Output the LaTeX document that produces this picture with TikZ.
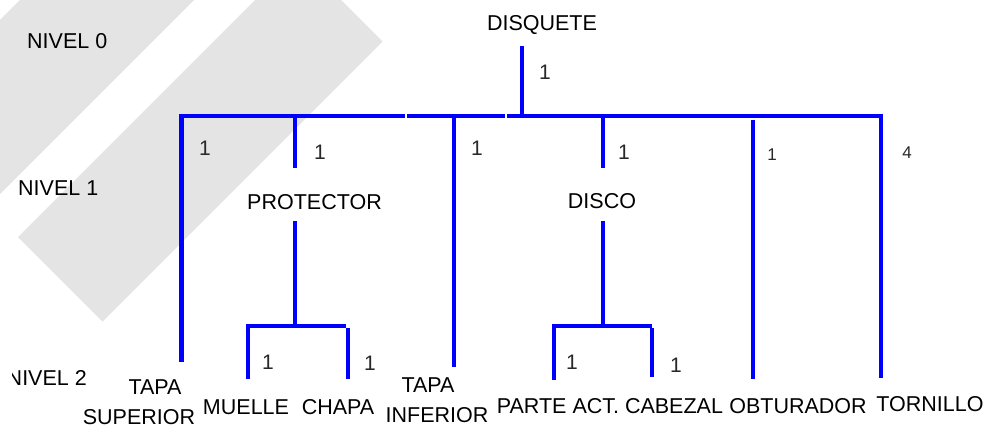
\documentclass[tikz,border=0pt]{standalone}
\usepackage{fontspec}
\setmainfont{Liberation Sans}
\definecolor{bandgray}{RGB}{228,228,228}
\definecolor{linkblue}{RGB}{0,0,255}
\definecolor{qtygray}{RGB}{40,40,40}
\begin{document}
\begin{tikzpicture}[x=1pt,y=-1pt,
  link/.style={draw=linkblue,line width=4.5pt},
  part/.style={inner sep=0pt,anchor=base,font=\fontsize{21.5}{24}\selectfont,text=black},
  level/.style={part,anchor=base west},
  qty/.style={inner sep=0pt,font=\fontsize{21}{24}\selectfont,text=qtygray},
  qtysmall/.style={qty,font=\fontsize{17}{20}\selectfont}]
\useasboundingbox (0,0) rectangle (995,428);

% diagonal background bands
\begin{scope}
  \clip (0,0) rectangle (995,428);
  \fill[bandgray] (-190,210) -- (160,-140) -- (247,-53) -- (-103,297) -- cycle;
  \fill[bandgray] (18,237) -- (298,-43) -- (382.5,41.5) -- (102.5,321.5) -- cycle;
\end{scope}

% level captions
\node[level] (lv0) at (27,48.5) {NIVEL 0};
\node[level] (lv1) at (18,195.5) {NIVEL 1};
\begin{scope}
  \clip (12,350) rectangle (120,400);
  \node[part,anchor=base east] (lv2) at (87,385.5) {NIVEL 2};
\end{scope}

% parts
\node[part] (disquete) at (542,30.5) {DISQUETE};
\node[part] (protector) at (314.5,209.5) {PROTECTOR};
\node[part] (disco) at (602,208.5) {DISCO};
\node[part] (tapasup) at (155,394) {TAPA};
\node[part] (tapasup2) at (139,424) {SUPERIOR};
\node[part] (muelle) at (246,414.5) {MUELLE};
\node[part] (chapa) at (338,414.5) {CHAPA};
\node[part] (tapainf) at (428,392.5) {TAPA};
\node[part] (tapainf2) at (437,422.5) {INFERIOR};
\node[part] (parteact) at (558,413.5) {PARTE ACT.};
\node[part] (cabezal) at (674,413.5) {CABEZAL};
\node[part] (obturador) at (798,413.5) {OBTURADOR};
\node[part] (tornillo) at (930,411.5) {TORNILLO};

% junction points of the tree
\coordinate (rootT) at (522,46);
\coordinate (rootB) at (522,116);
\coordinate (barL) at (180,116);
\coordinate (seamA1) at (405,116);
\coordinate (seamA2) at (407,116);
\coordinate (seamB1) at (505,116);
\coordinate (seamB2) at (507,116);
\coordinate (barR) at (883,116);

\coordinate (tsT) at (181.5,114);
\coordinate (tsB) at (181.5,362);
\coordinate (prT) at (295,116);
\coordinate (prB) at (295,168);
\coordinate (prT2) at (295,221);
\coordinate (prJ) at (295,326);
\coordinate (prL) at (248,326);
\coordinate (prR) at (346,326);
\coordinate (muT) at (248,324);
\coordinate (muB) at (248,379);
\coordinate (chT) at (348,328);
\coordinate (chB) at (348,379);
\coordinate (tiT) at (454,116);
\coordinate (tiB) at (454,367);
\coordinate (diT) at (603,116);
\coordinate (diB) at (603,168);
\coordinate (diT2) at (603,221);
\coordinate (diJ) at (603,326);
\coordinate (diL) at (553,326);
\coordinate (diR) at (652,326);
\coordinate (paT) at (554,324);
\coordinate (paB) at (554,380);
\coordinate (caT) at (652,328);
\coordinate (caB) at (652,377);
\coordinate (obT) at (753,120);
\coordinate (obB) at (753,379);
\coordinate (toT) at (881,114);
\coordinate (toB) at (881,378);

% connectors
\draw[link] (rootT) -- (rootB);
\draw[link] (barL) -- (seamA1);
\draw[link] (seamA2) -- (seamB1);
\draw[link] (seamB2) -- (barR);
\draw[link] (tsT) -- (tsB);
\draw[link] (prT) -- (prB);
\draw[link] (prT2) -- (prJ);
\draw[link] (prL) -- (prR);
\draw[link] (muT) -- (muB);
\draw[link] (chT) -- (chB);
\draw[link] (tiT) -- (tiB);
\draw[link] (diT) -- (diB);
\draw[link] (diT2) -- (diJ);
\draw[link] (diL) -- (diR);
\draw[link] (paT) -- (paB);
\draw[link] (caT) -- (caB);
\draw[link] (obT) -- (obB);
\draw[link] (toT) -- (toB);

% quantities
\node[qty] (q0) at (545,72) {1};
\node[qty] (q1) at (205,148) {1};
\node[qty] (q2) at (320,152) {1};
\node[qty] (q3) at (477,148) {1};
\node[qty] (q4) at (624,152) {1};
\node[qtysmall] (q5) at (772,155) {1};
\node[qtysmall] (q6) at (907,153) {4};
\node[qty] (q7) at (268,362) {1};
\node[qty] (q8) at (370,363) {1};
\node[qty] (q9) at (572,362) {1};
\node[qty] (q10) at (676,365) {1};
\end{tikzpicture}
\end{document}
